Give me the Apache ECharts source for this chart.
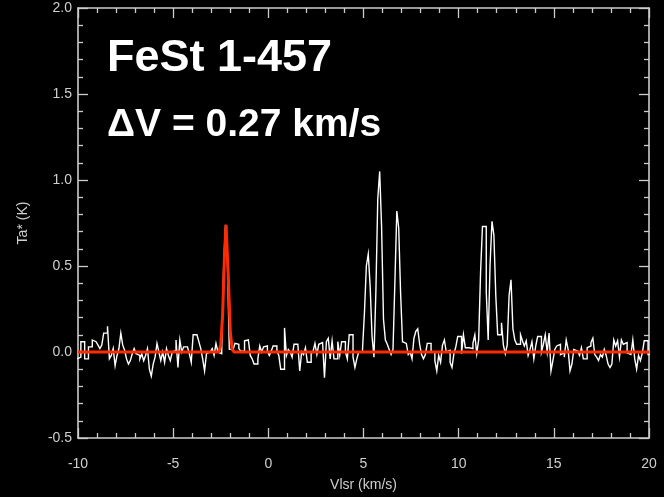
<!DOCTYPE html>
<html>
<head>
<meta charset="utf-8">
<script src="https://cdn.jsdelivr.net/npm/echarts@6/dist/echarts.min.js"></script>
<style>
html,body{margin:0;padding:0;background:#000;}
#chart{width:664px;height:497px;}
</style>
</head>
<body>
<div id="chart"></div>
<script>
// Channel grid of the spectrum (km/s)
const velStart = -10;
const velStep = 0.1;

// Antenna temperature Ta* (K) per channel, split by velocity range
// -10.0 .. -2.4
const taWest = [
  -0.04, -0.03, 0.06, 0.06, -0.04, -0.04, 0.03, 0.03, 0.07, 0.06, 0.05,
  0.04,
  0.02, 0.04, 0.11, 0.11, 0.15, -0.04, -0.02, 0.02, -0.08, -0.02, 0.02, 0.11, 0.04, 0.01, -0.04, -0.07, -0.05, -0.01, 0.02, -0.01,
  -0.02,
  -0.04, -0.01, -0.05, -0.02, 0.02, -0.10, -0.14, -0.07, -0.03, 0.05, 0.00, -0.05, 0.00, -0.06, 0.02, -0.02, -0.05, 0.00,
  0.01,
  0.07, -0.09, 0.07, 0.00, 0.03, 0.03, 0.02, -0.01, -0.06, 0.10, 0.10, 0.10, 0.06, 0.02, -0.04, -0.11, -0.01, 0.00,
  0.01,
  0.02, -0.02, 0.05, 0.00, -0.01,
  0.01
];
// -2.3 .. -2.1 (isolated component)
const taIsolated = [0.48, 0.74, 0.53];
// -2.0 .. 4.9
const taMiddle = [
  0.015, 0.015, 0.025, 0.05, 0.045, 0.02, 0.005, 0.005, 0.065, 0.07,
  0.065, -0.02, -0.04, -0.07, -0.07, -0.04, 0.035, 0.00, 0.03, 0.035,
  0.005, -0.02, 0.005, 0.035, 0.035, 0.005, -0.02, -0.10, -0.10, 0.14,
  -0.02, 0.015, 0.00, -0.03, 0.045, 0.045, 0.045, -0.11, 0.00, -0.015,
  0.025, -0.06, -0.06, -0.01, 0.005, 0.05, -0.015, 0.045, 0.055, 0.055,
  -0.15, 0.06, 0.08, -0.04, 0.065, -0.04, -0.04, 0.06, -0.02, 0.06,
  0.06, 0.00, -0.04, 0.10, 0.10, -0.03, -0.09, -0.04, 0.00, 0.00
];
// 5.0 .. 7.0 (first hyperfine group)
const taGroup1 = [
  0.02, 0.23, 0.50, 0.57, 0.38, 0.09, -0.03, 0.35, 0.89, 1.05,
  0.73, 0.19, 0.07, 0.045, 0.015, -0.015, 0.015, 0.41, 0.82, 0.72, 0.34
];
// 7.1 .. 11.1
const taBetween = [
  0.06, 0.05, 0.045, -0.015, 0.00, -0.04, 0.08, 0.12, 0.135, 0.045, -0.015, -0.04, -0.015, 0.05,
  0.05, 0.00, 0.00, -0.05, -0.11, -0.02, -0.06, 0.04, 0.07, 0.00, 0.01, -0.06, -0.09, -0.01,
  0.03, 0.09, 0.09, -0.01, 0.10, 0.025, 0.025, 0.02, 0.02, 0.05, 0.10, -0.01, 0.07
];
// 11.2 .. 12.9 (second hyperfine group)
const taGroup2 = [
  0.46, 0.73, 0.73, 0.35, 0.07, 0.51, 0.76, 0.68, 0.33, 0.10,
  0.10, 0.17, 0.04, -0.01, 0.04, 0.33, 0.42, 0.135
];
// 13.0 .. 20.0
const taEast = [
  0.07, 0.045, 0.045, 0.10, 0.065, 0.035, 0.065, -0.02, 0.015, 0.06,
  -0.04, 0.035, 0.09, 0.09, 0.00, 0.045, 0.10, 0.00, 0.11, -0.11,
  -0.05, 0.015, 0.035, 0.045, -0.015, -0.005, -0.03, 0.07, 0.015, -0.11,
  -0.07, 0.015, 0.005, -0.005, -0.02, 0.025, -0.04, -0.04, 0.025, 0.035,
  0.055, 0.08, -0.015, -0.03, -0.05, -0.015, -0.03, 0.015, -0.02, -0.07,
  -0.09, -0.07, 0.07, 0.035, 0.065, -0.03, 0.07, 0.045, 0.055, -0.005,
  -0.015, -0.005, 0.07, -0.04, -0.10, -0.02, -0.05, -0.005, 0.065, 0.065,
  -0.015
];

// Gaussian fit (red), sampled points
const fitVel = [-10, -2.6, -2.5, -2.4, -2.3, -2.22, -2.1, -2.0, -1.9, -1.8, 20];
const fitTa  = [0, 0, 0.04, 0.22, 0.58, 0.74, 0.43, 0.12, 0.015, 0, 0];

const titleText = 'FeSt 1-457';
const widthText = '\u0394V = 0.27 km/s';
const xName = 'Vlsr (km/s)';
const yName = 'Ta* (K)';

const taAll = [].concat(taWest, taIsolated, taMiddle, taGroup1, taBetween, taGroup2, taEast);
// histogram-style spectrum: each channel is flat across its own width
const specData = [];
taAll.forEach((t, i) => {
  const v = velStart + i * velStep;
  specData.push([+(v - velStep / 2).toFixed(3), t]);
  specData.push([+(v + velStep / 2).toFixed(3), t]);
});
const fitData = fitVel.map((v, i) => [v, fitTa[i]]);

const FONT = '"Liberation Sans", Arial, Helvetica, sans-serif';
const AX = '#cccccc';
const LBL = '#cfcfcf';

function xAx(pos, labels) {
  return {
    type: 'value', position: pos, min: -10, max: 20, interval: 5,
    axisLine: { show: true, onZero: false, lineStyle: { color: AX, width: 1.6 } },
    axisTick: { show: true, inside: true, length: 10, lineStyle: { color: AX, width: 1.3 } },
    minorTick: { show: true, splitNumber: 5, length: 5, lineStyle: { color: AX, width: 1.3 } },
    splitLine: { show: false }, minorSplitLine: { show: false },
    axisLabel: { show: labels, color: LBL, fontSize: 14, fontFamily: FONT, margin: 19 },
    name: labels ? xName : '', nameLocation: 'middle', nameGap: 40,
    nameTextStyle: { color: LBL, fontSize: 14, fontFamily: FONT }
  };
}
function yAx(pos, labels) {
  return {
    type: 'value', position: pos, min: -0.5, max: 2.0, interval: 0.5,
    axisLine: { show: true, onZero: false, lineStyle: { color: AX, width: 1.6 } },
    axisTick: { show: true, inside: true, length: 10, lineStyle: { color: AX, width: 1.3 } },
    minorTick: { show: true, splitNumber: 5, length: 5, lineStyle: { color: AX, width: 1.3 } },
    splitLine: { show: false }, minorSplitLine: { show: false },
    axisLabel: { show: labels, color: LBL, fontSize: 14, fontFamily: FONT, margin: 6,
      lineHeight: 20, padding: [5, 0, 0, 0], formatter: v => v.toFixed(1) },
    name: labels ? yName : '', nameLocation: 'middle', nameGap: 48, nameRotate: 90,
    nameTextStyle: { color: LBL, fontSize: 14, fontFamily: FONT }
  };
}

const chart = echarts.init(document.getElementById('chart'), null, { renderer: 'canvas' });
chart.setOption({
  backgroundColor: '#000',
  animation: false,
  title: [
    { text: titleText, left: 102, top: 31,
      textStyle: { color: '#fff', fontSize: 45, fontWeight: 'bold', fontFamily: FONT } },
    { text: widthText, left: 102, top: 101,
      textStyle: { color: '#fff', fontSize: 39, fontWeight: 'bold', fontFamily: FONT } }
  ],
  grid: { left: 78, right: 15, top: 8, bottom: 59, containLabel: false, outerBoundsMode: 'none' },
  xAxis: [xAx('bottom', true), xAx('top', false)],
  yAxis: [yAx('left', true), yAx('right', false)],
  series: [
    { type: 'line', xAxisIndex: 0, yAxisIndex: 0, data: specData,
      showSymbol: false, symbol: 'none', lineStyle: { color: '#ffffff', width: 1.4, join: 'miter' }, z: 2 },
    { type: 'line', xAxisIndex: 0, yAxisIndex: 0, data: fitData,
      showSymbol: false, symbol: 'none', lineStyle: { color: '#ff2a00', width: 3 }, z: 3 }
  ]
});
</script>
</body>
</html>
